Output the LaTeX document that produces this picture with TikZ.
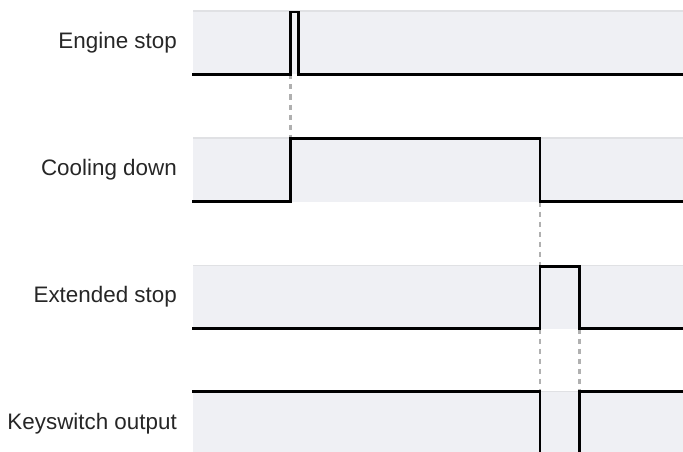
\documentclass[tikz,border=0pt]{standalone}
\usepackage{fontspec}
\setmainfont{Liberation Sans}
\usepackage{xcolor}
\definecolor{lanebg}{HTML}{EFF0F4}
\definecolor{laneedge}{HTML}{E0E1E4}
\definecolor{guide}{HTML}{B0B0B0}

\begin{document}
\begin{tikzpicture}[x=1pt, y=-1pt, lbl/.style={anchor=base east, inner sep=0pt, text=black!85, font=\fontsize{22.4}{25}\selectfont},
    wave/.style={line width=2.6pt, line join=miter, line cap=rect}, guideline/.style={guide, line width=2.2pt, dash pattern=on 5pt off 5pt}]
  \useasboundingbox (0,0) rectangle (683,452);
  \clip (0,0) rectangle (683,452);
  % lane bands
  \fill[lanebg] (193,11) rectangle (683,74.5); \fill[lanebg] (193,138) rectangle (683,201.5);
  \fill[lanebg] (193,265.5) rectangle (683,328.5); \fill[lanebg] (193,391.5) rectangle (683,460);
  \draw[laneedge, line width=1.2pt] (193,11)--(683,11); \draw[laneedge, line width=1.2pt] (193,138)--(683,138);
  \draw[laneedge, line width=1.2pt] (193,265.5)--(683,265.5); \draw[laneedge, line width=1.2pt] (193,391.5)--(683,391.5);
  % labels
  \node[lbl] (engine) at (177,48.5) {Engine stop}; \node[lbl] (cooling) at (177,175.5) {Cooling down};
  \node[lbl] (extended) at (177,302.5) {Extended stop}; \node[lbl] (keyswitch) at (177,429.5) {Keyswitch output};
  % edges
  \coordinate (es) at (290.5,74.5); \coordinate (cd) at (290.5,138);
  \coordinate (cdoff) at (540,201.5); \coordinate (xon) at (540,265.5);
  \coordinate (xup) at (540,328.5); \coordinate (kdn) at (540,391.5);
  \coordinate (xoff) at (579.5,328.5); \coordinate (kup) at (579.5,391.5);
  \draw[guideline] (es)--(cd); \draw[guideline] (cdoff)--(xon);
  \draw[guideline] (xup)--(kdn); \draw[guideline] (xoff)--(kup);
  % waveforms
  \draw[wave] (193,74.5)--(290.5,74.5)--(290.5,12)--(298.5,12)--(298.5,74.5)--(684,74.5);
  \draw[wave] (193,201.5)--(290.5,201.5)--(290.5,138.5)--(540,138.5)--(540,201.5)--(684,201.5);
  \draw[wave] (193,328.5)--(540,328.5)--(540,266.5)--(579.5,266.5)--(579.5,328.5)--(684,328.5);
  \draw[wave] (193,391.5)--(540,391.5)--(540,462); \draw[wave] (579.5,462)--(579.5,391.5)--(684,391.5);
\end{tikzpicture}
\end{document}
